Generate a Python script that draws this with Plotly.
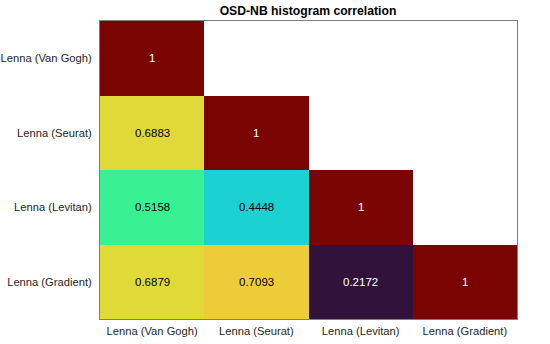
import plotly.graph_objects as go

labels = ["Lenna (Van Gogh)", "Lenna (Seurat)", "Lenna (Levitan)", "Lenna (Gradient)"]
row_vangogh = [1, None, None, None]
row_seurat = [0.6883, 1, None, None]
row_levitan = [0.5158, 0.4448, 1, None]
row_gradient = [0.6879, 0.7093, 0.2172, 1]
z = [row_vangogh, row_seurat, row_levitan, row_gradient]
title = "OSD-NB histogram correlation"

vals = [v for r in z for v in r if v is not None]
zmin, zmax = min(vals), max(vals)

fig = go.Figure(go.Heatmap(
    z=z, x=labels, y=labels,
    colorscale="Turbo", zmin=zmin, zmax=zmax,
    showscale=False, hoverongaps=False, xgap=0, ygap=0,
))

annotations = []
for i, r in enumerate(z):
    for j, v in enumerate(r):
        if v is None:
            continue
        t = (v - zmin) / (zmax - zmin)
        col = "white" if (t < 0.12 or t > 0.85) else "black"
        annotations.append(dict(x=labels[j], y=labels[i], text=f"{v:.4g}",
                                showarrow=False, font=dict(color=col, size=11.5)))

fig.update_layout(
    width=550, height=344,
    margin=dict(l=100, r=33, t=21, b=25),
    paper_bgcolor="white", plot_bgcolor="white",
    font=dict(family="Liberation Sans, Arial, sans-serif", size=11.2, color="#262626"),
    title=dict(text="<b>" + title + "</b>", x=0.56, xanchor="center", y=0.968, yanchor="middle",
               font=dict(size=12.2, color="#000000")),
    annotations=annotations,
    xaxis=dict(showline=True, mirror=True, linecolor="#7f7f7f", linewidth=1, ticks="",
               showgrid=False, zeroline=False, ticklabelstandoff=2, automargin=False),
    yaxis=dict(autorange="reversed", showline=True, mirror=True, linecolor="#7f7f7f", linewidth=1,
               ticks="", showgrid=False, zeroline=False, ticklabelstandoff=5, automargin=False),
)

fig.write_html("out.html", config={"displayModeBar": False},
               post_script="document.body.style.margin='0';")
